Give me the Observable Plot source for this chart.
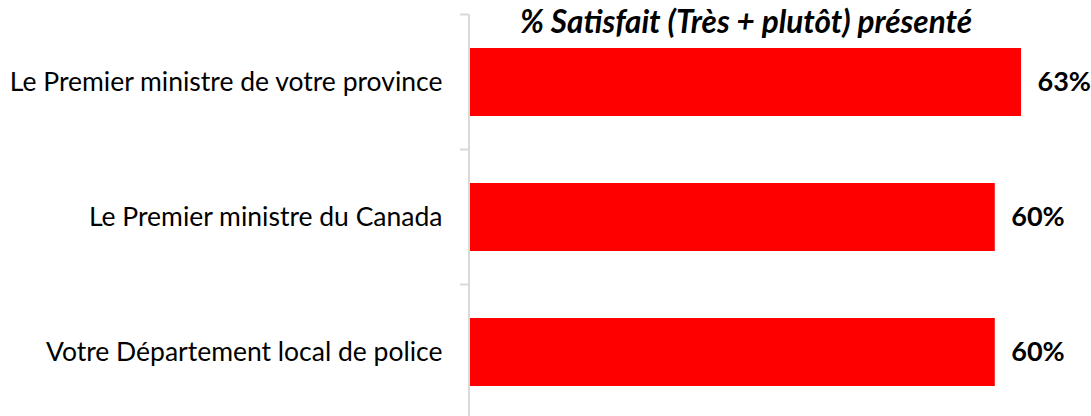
<!DOCTYPE html>
<html>
<head>
<meta charset="utf-8">
<script src="https://cdn.jsdelivr.net/npm/d3@7"></script>
<script src="https://cdn.jsdelivr.net/npm/@observablehq/plot@0.6"></script>
<style>
  html, body { margin: 0; padding: 0; background: #fff; }
</style>
</head>
<body>
<div id="chart"></div>
<script>
const title = "% Satisfait (Très + plutôt) présenté";
const categories = [
  "Le Premier ministre de votre province",
  "Le Premier ministre du Canada",
  "Votre Département local de police"
];
const values = [63, 60, 60];

const data = categories.map((c, i) => ({category: c, value: values[i]}));

// custom axis: gray vertical line with ticks at band boundaries
const bandAxis = (index, scales, channels, dimensions) => {
  const y = scales.y;
  const bw = typeof y.bandwidth === "function" ? y.bandwidth() : y.bandwidth;
  const step = y(categories[1]) - y(categories[0]);
  const bounds = categories.map(c => y(c) + bw / 2 - step / 2);
  bounds.push(bounds[bounds.length - 1] + step);
  const x0 = dimensions.marginLeft - 1;
  const g = d3.create("svg:g").attr("stroke", "#d9d9d9").attr("stroke-width", 2);
  g.append("line").attr("x1", x0).attr("x2", x0)
    .attr("y1", bounds[0]).attr("y2", bounds[bounds.length - 1] + 10);
  for (const b of bounds) {
    g.append("line").attr("x1", x0 - 9).attr("x2", x0).attr("y1", b).attr("y2", b);
  }
  return g.node();
};

const plot = Plot.plot({
  width: 1091,
  height: 416,
  marginLeft: 470,
  marginRight: 0,
  marginTop: 13,
  marginBottom: -3.5,
  style: {fontFamily: "Lato, sans-serif", fontSize: "26px", color: "#000", background: "#fff", overflow: "visible"},
  x: {domain: [0, 71], axis: null},
  y: {domain: categories, paddingInner: 0.5, paddingOuter: 0.25, label: null},
  marks: [
    Plot.barX(data, {x: "value", y: "category", fill: "#ff0000"}),
    Plot.axisY({tickSize: 0, tickPadding: 28, fontSize: 26.5, fill: "#000"}),
    bandAxis,
    Plot.text(data, {x: "value", y: "category", text: d => `${d.value}%`, textAnchor: "start", dx: 16,
      fontWeight: "bold", fontSize: 27, fill: "#000"}),
    Plot.text([title], {frameAnchor: "top", text: d => d, dx: -35, dy: -3, fontWeight: "bold",
      fontStyle: "italic", fontSize: 31.5, fill: "#000"})
  ]
});
document.getElementById("chart").appendChild(plot);
</script>
</body>
</html>
